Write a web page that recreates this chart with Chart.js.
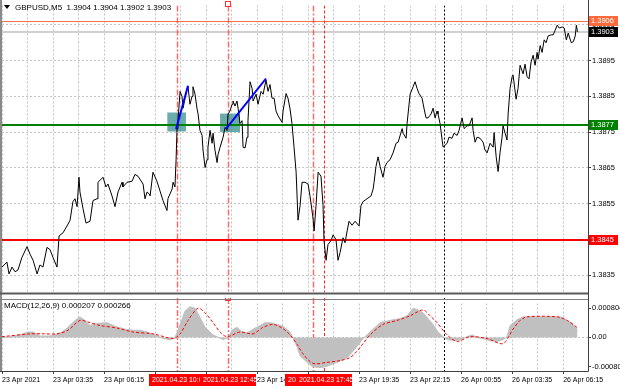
<!DOCTYPE html>
<html>
<head>
<meta charset="utf-8">
<script src="https://cdn.jsdelivr.net/npm/chart.js@4.4.1/dist/chart.umd.min.js"></script>
<style>
  html, body { margin: 0; padding: 0; background: #fff; }
  #wrap { position: relative; width: 620px; height: 388px; overflow: hidden; }
  #price { position: absolute; left: 0; top: 0; }
  #macd { position: absolute; left: 0; top: 298px; }
</style>
</head>
<body>
<div id="wrap">
  <canvas id="price" width="620" height="298"></canvas>
  <canvas id="macd" width="620" height="90"></canvas>
</div>
<script>
// GBPUSD M5, 23-26 Apr 2021. x values are bar numbers (5 min bars, bar 0 = 23 Apr 00:55)
const priceBars = [
  0, 3.1, 4.4, 6.3, 8.2, 10, 12.5, 15.7, 17.6, 19.5, 22, 23.8, 25.7, 28.2, 30.1, 32, 34.5, 35.8, 38.3, 40.8,
  42.7, 44.5, 45.8, 47.1, 48.3, 48.9, 50.8, 52.7, 55.2, 57.1, 59.6, 60.2, 63.4, 65.2, 66.5, 69, 70.9, 72.8, 75.3, 75.9,
  78.4, 81.6, 83.4, 85.3, 88.5, 89.7, 91, 92.2,
  92.9, 94.7, 97.2, 99.1, 101, 103.5, 104.1, 106.7, 107.3, 108.5, 109.2, 109.8, 110.4, 111.7, 112.9, 113.6, 114.8, 116.1, 116.7, 117.9,
  119.2, 119.8, 121.1, 122.3, 123, 124.2, 125.5, 126.1, 127.4, 128.6, 129.2, 130.5, 131.8, 132.4, 133.6, 134.9, 135.5, 136.8, 138.7, 139.9,
  141.2, 141.8, 143, 144.3, 144.9, 146.2, 147.4, 148.1, 149.3, 150.6, 151.2, 152.5, 153.7, 154.3, 155.6, 156.9, 157.5, 159.4, 160.6, 162.5,
  163.8, 165.6, 166.9, 168.1, 169.4, 170.7, 171.9, 173.2, 175.7, 176.3, 178.2, 179.4, 180.7, 181.9, 183.2, 184.5, 185.7, 187,
  188.2, 190.1, 192, 193.2, 195.1, 195.8, 197, 198.3, 200.1, 201.4, 202, 203.3, 204.5, 206.4, 207.7, 209.5, 210.8, 212.1, 213.9, 215.2,
  216.5, 217.7, 219.6, 221.5, 224, 225.2, 226.5, 229, 231.5, 232.8, 233.4, 234.6, 235.9, 237.2, 239, 240.3, 241.5, 243.4, 245.3, 247.2,
  248.5, 251, 251.6, 253.5, 254.1, 256, 257.9, 259.1, 260.4, 261.6, 263.5, 264.8, 266, 267.3, 269.2, 270.4, 271.7, 272.9, 273.5, 274.8,
  276.1, 276.7, 279.2, 280.4,
  282.3, 283.6, 285.5, 286.7, 288.6, 289.9, 291.7, 293, 294.9, 295.5, 296.8, 298, 299.9, 301.8, 303, 304.3, 306.2, 308.1, 308.7, 310,
  311.2, 312.4, 313.7, 314.3, 315.6, 316.8, 317.5, 318.7, 320, 320.6, 322.5, 323.7, 325, 326.9, 328.1, 329.4, 330.6, 331.9, 333.2, 334.4,
  335.7, 336.3, 337.6, 338.8, 340.1, 341.3, 342.6, 344.5, 345.8, 347, 348.3, 349.6, 351.4, 352.7, 354, 355.2, 357.1, 358.4, 359.6, 360.3,
  361
];
const priceCloses = [
  1.38373, 1.38387, 1.38354, 1.38373, 1.38360, 1.38365, 1.38400, 1.38430, 1.38409, 1.38392, 1.38354, 1.38379, 1.38373, 1.38428, 1.38422, 1.38400, 1.38373, 1.38460, 1.38469, 1.38488,
  1.38504, 1.38556, 1.38564, 1.38542, 1.38624, 1.38583, 1.38537, 1.38496, 1.38501, 1.38559, 1.38564, 1.38610, 1.38624, 1.38597, 1.38605, 1.38572, 1.38542, 1.38583, 1.38610, 1.38597,
  1.38610, 1.38613, 1.38632, 1.38627, 1.38605, 1.38564, 1.38583, 1.38578,
  1.38572, 1.38638, 1.38613, 1.38586, 1.38559, 1.38531, 1.38564, 1.38591, 1.38610, 1.38597, 1.38673, 1.38760, 1.38782, 1.38864, 1.38850, 1.38817, 1.38845, 1.38872, 1.38877, 1.38828,
  1.38850, 1.38877, 1.38856, 1.38817, 1.38801, 1.38755, 1.38741, 1.38700, 1.38651, 1.38673, 1.38708, 1.38755, 1.38719, 1.38747, 1.38700, 1.38665, 1.38687, 1.38708, 1.38736, 1.38763,
  1.38755, 1.38801, 1.38809, 1.38828, 1.38837, 1.38823, 1.38837, 1.38817, 1.38774, 1.38782, 1.38708, 1.38706, 1.38736, 1.38782, 1.38891, 1.38872, 1.38837, 1.38856, 1.38828, 1.38864,
  1.38856, 1.38896, 1.38864, 1.38883, 1.38845, 1.38845, 1.38809, 1.38796, 1.38777, 1.38809, 1.38858, 1.38845, 1.38815, 1.38774, 1.38708, 1.38638, 1.38504, 1.38545,
  1.38610, 1.38610, 1.38605, 1.38572, 1.38510, 1.38474, 1.38545, 1.38638, 1.38627, 1.38545, 1.38447, 1.38392, 1.38436, 1.38447, 1.38463, 1.38450, 1.38392, 1.38414, 1.38455, 1.38441,
  1.38474, 1.38501, 1.38490, 1.38501, 1.38488, 1.38545, 1.38556, 1.38564, 1.38572, 1.38591, 1.38610, 1.38654, 1.38681, 1.38654, 1.38624, 1.38654, 1.38665, 1.38673, 1.38692, 1.38719,
  1.38722, 1.38760, 1.38747, 1.38733, 1.38774, 1.38856, 1.38877, 1.38891, 1.38872, 1.38858, 1.38845, 1.38815, 1.38790, 1.38790, 1.38801, 1.38817, 1.38790, 1.38809, 1.38801, 1.38774,
  1.38728, 1.38708, 1.38719, 1.38736,
  1.38733, 1.38747, 1.38741, 1.38755, 1.38790, 1.38760, 1.38768, 1.38768, 1.38790, 1.38755, 1.38722, 1.38736, 1.38733, 1.38722, 1.38700, 1.38692, 1.38719, 1.38708, 1.38749, 1.38681,
  1.38640, 1.38692, 1.38736, 1.38768, 1.38747, 1.38728, 1.38801, 1.38872, 1.38905, 1.38910, 1.38842, 1.38872, 1.38937, 1.38913, 1.38940, 1.38905, 1.38899, 1.38946, 1.38965, 1.38937,
  1.38973, 1.38954, 1.38992, 1.38973, 1.39008, 1.39000, 1.39019, 1.39022, 1.39022, 1.39035, 1.39049, 1.39041, 1.39044, 1.39041, 1.39008, 1.39027, 1.39000, 1.39003, 1.39019, 1.39049,
  1.39030
];

// MACD(12,26,9): main as histogram, signal as dotted line
const macdBars = [
  0, 5, 11.3, 16.3, 19.5, 23.8, 30.1, 35.1, 37.6, 41.4, 45.8, 48.9, 52.1, 55.2, 59.6, 65.9, 70.9, 77.2, 82.2, 86.6,
  91, 96, 101, 105.4, 108.5, 111.7, 114.8, 117.9, 121.1, 124.2, 127.4, 132.4, 138.7, 141.8, 144.3, 147.4, 150.6, 153.7, 157.5, 161.9,
  165, 168.1, 172.5, 176.3, 180.7, 182.5, 185, 187, 191.4, 194.5, 197.6, 200.8, 203.9, 210.2, 216.5, 221.5, 226.5, 230.9, 237.2, 245.3,
  249.7, 254.1, 257.9, 261, 264.1, 267.3, 270.4, 273.5, 276.7, 279.2, 284.2, 287.3, 291.7, 294.9, 298.6, 301.8, 306.2, 310.6, 314.3, 316.8,
  318.7, 323.1, 326.9, 331.3, 337.6, 343.9, 350.2, 354.6, 357.7, 361
];
const macdMain = [
  -0.00001, 0.00002, 0.00007, 0.00015, 0.00015, 0.00004, 0.00004, 0.00010, 0.00015, 0.00028, 0.00047, 0.00057, 0.00047, 0.00033, 0.00039, 0.00041, 0.00031, 0.00023, 0.00020, 0.00020,
  0.00015, 0.00007, -0.00003, -0.00006, -0.00001, 0.00036, 0.00073, 0.00085, 0.00081, 0.00055, 0.00028, 0.00007, -0.00006, -0.00001, 0.00020, 0.00028, 0.00015, 0.00012, 0.00023, 0.00033,
  0.00041, 0.00041, 0.00036, 0.00031, 0.00015, -0.00001, -0.00025, -0.00051, -0.00069, -0.00080, -0.00083, -0.00083, -0.00080, -0.00069, -0.00056, -0.00032, -0.00003, 0.00015, 0.00041, 0.00049,
  0.00052, 0.00060, 0.00081, 0.00076, 0.00068, 0.00052, 0.00036, 0.00015, 0.00002, -0.00006, -0.00009, -0.00006, 0.00002, 0.00007, -0.00001, -0.00003, -0.00009, -0.00011, -0.00006, 0.00002,
  0.00033, 0.00049, 0.00057, 0.00057, 0.00057, 0.00057, 0.00057, 0.00047, 0.00039, 0.000207
];
const signalBars = [
  0, 17.6, 25.7, 34.5, 41.4, 48.9, 55.2, 61.5, 72.2, 82.2, 94.7, 107.3, 111.7, 116.7, 123, 127.4, 132.4, 136.8, 141.2, 149.3,
  157.5, 163.8, 170, 175.7, 180.7, 185.1, 188.9, 195.1, 203.9, 212.1, 218.3, 222.7, 226.5, 230.9, 239, 247.8, 256, 264.1, 268.5, 272.9,
  279.2, 285.5, 293.6, 304.3, 314.3, 320.6, 325, 329.4, 348.3, 354.6, 361
];
const signalVals = [
  0.00002, 0.00010, 0.00010, 0.00010, 0.00020, 0.00047, 0.00041, 0.00033, 0.00026, 0.00015, 0.00010, -0.00003, 0.00010, 0.00047, 0.00081, 0.00068, 0.00041, 0.00015, 0.00002, 0.00015,
  0.00010, 0.00028, 0.00036, 0.00026, 0.00007, -0.00019, -0.00046, -0.00072, -0.00069, -0.00064, -0.00056, -0.00038, -0.00017, 0.00007, 0.00036, 0.00047, 0.00060, 0.00076, 0.00060, 0.00041,
  0.00007, -0.00011, 0.00002, -0.00003, -0.00017, 0.00023, 0.00047, 0.00057, 0.00057, 0.00047, 0.000266
];

// axes
const timeTickBars = [0, 32, 64, 96, 128, 160, 192, 224, 256, 288, 320, 352];
const timeTickLabels = ['23 Apr 2021', '23 Apr 03:35', '23 Apr 06:15', '23 Apr 08:55', '23 Apr 11:35', '23 Apr 14:15',
  '23 Apr 16:55', '23 Apr 19:35', '23 Apr 22:15', '26 Apr 00:55', '26 Apr 03:35', '26 Apr 06:15'];
const priceTicks = [1.3905, 1.3895, 1.3885, 1.3875, 1.3865, 1.3855, 1.3845, 1.3835];
const macdTicks = [0.000804, 0, -0.000804];

// objects drawn on the chart
const resistanceLevel = 1.3877;
const supportLevel = 1.3845;
const askPrice = 1.3906;
const bidPrice = 1.3903;
const trendBars1 = [109.2, 116.7];
const trendPrices1 = [1.38759, 1.38880];
const trendBars2 = [140.5, 165.6];
const trendPrices2 = [1.38759, 1.38900];
const zoneBars = [[103.7, 115.4], [136.8, 149.3]];
const zonePrices = [[1.38752, 1.38805], [1.38750, 1.38802]];
const markerBars = [110, 142, 195, 202];
const markerLabels = ['2021.04.23 10:05', '2021.04.23 12:45', '2021.04.23 17:10', '2021.04.23 17:45'];
const daySeparatorBar = 277;

const XMAX = 367.6;
const FONT = '"Liberation Sans", Arial, sans-serif';
const GRID = '#c4c4c4';

function xy(xs, ys) {
  return xs.map((x, i) => ({x: x, y: ys[i]}));
}

function drawVerticals(chart, top, bottom) {
  const {ctx, scales: {x}} = chart;
  ctx.save();
  markerBars.forEach((b, i) => {
    const px = Math.round(x.getPixelForValue(b)) + 0.5;
    if (i === 3) {
      ctx.strokeStyle = '#ff2020';
      ctx.lineWidth = 1;
      ctx.setLineDash([3, 2]);
    } else {
      ctx.strokeStyle = 'rgba(255,80,80,0.85)';
      ctx.lineWidth = 1.5;
      ctx.setLineDash([6, 2, 2, 2]);
    }
    ctx.beginPath();
    ctx.moveTo(px, top);
    ctx.lineTo(px, bottom);
    ctx.stroke();
  });
  const sx = Math.round(x.getPixelForValue(daySeparatorBar)) + 0.5;
  ctx.strokeStyle = '#000';
  ctx.lineWidth = 1;
  ctx.setLineDash([2, 2]);
  ctx.beginPath();
  ctx.moveTo(sx, top);
  ctx.lineTo(sx, bottom);
  ctx.stroke();
  ctx.restore();
}

function axisBox(ctx, yPix, text, bg) {
  ctx.fillStyle = bg;
  ctx.fillRect(589, Math.round(yPix) - 5, 29, 10);
  ctx.fillStyle = '#fff';
  ctx.font = '7.5px ' + FONT;
  ctx.textBaseline = 'middle';
  ctx.textAlign = 'left';
  ctx.fillText(text, 591, Math.round(yPix));
}

const pricePanel = {
  id: 'pricePanel',
  beforeDatasetsDraw(chart) {
    const {ctx, chartArea: a, scales: {x, y}} = chart;
    ctx.save();
    ctx.beginPath();
    ctx.rect(a.left, a.top, a.right - a.left, a.bottom - a.top);
    ctx.clip();
    // levels
    const hline = (p, color, w) => {
      const py = Math.round(y.getPixelForValue(p)) + (w % 2 ? 0.5 : 0);
      ctx.strokeStyle = color;
      ctx.lineWidth = w;
      ctx.beginPath();
      ctx.moveTo(a.left, py);
      ctx.lineTo(a.right, py);
      ctx.stroke();
    };
    hline(askPrice, '#ff7043', 1);
    hline(bidPrice, '#d0d0d0', 2);
    drawVerticals(chart, a.top, a.bottom);
    // entry zones
    ctx.fillStyle = 'rgba(48,138,138,0.72)';
    zoneBars.forEach((b, i) => {
      const x1 = x.getPixelForValue(b[0]);
      const x2 = x.getPixelForValue(b[1]);
      const y1 = y.getPixelForValue(zonePrices[i][1]);
      const y2 = y.getPixelForValue(zonePrices[i][0]);
      ctx.fillRect(x1, y1, x2 - x1, y2 - y1);
    });
    hline(resistanceLevel, '#008000', 2);
    hline(supportLevel, '#ff0000', 2);
    ctx.restore();
  },
  afterDraw(chart) {
    const {ctx, chartArea: a, scales: {x, y}} = chart;
    ctx.save();
    // frame
    ctx.fillStyle = '#8a8a8a';
    ctx.fillRect(0, 0, 2, chart.height);
    ctx.fillStyle = '#5a5a5a';
    ctx.fillRect(0, a.bottom, a.right + 1, 2);
    ctx.strokeStyle = '#404040';
    ctx.lineWidth = 1;
    ctx.beginPath();
    ctx.moveTo(a.right + 0.5, 0);
    ctx.lineTo(a.right + 0.5, chart.height);
    ctx.stroke();
    // marker flag on top of the 12:45 line
    const mx = Math.round(x.getPixelForValue(markerBars[1]));
    ctx.strokeStyle = '#ff3030';
    ctx.strokeRect(mx - 2.5, 1.5, 5, 5);
    // symbol line
    ctx.fillStyle = '#000';
    ctx.beginPath();
    ctx.moveTo(4, 5);
    ctx.lineTo(10, 5);
    ctx.lineTo(7, 9);
    ctx.closePath();
    ctx.fill();
    ctx.font = '8px ' + FONT;
    ctx.textBaseline = 'middle';
    ctx.fillText('GBPUSD,M5  1.3904 1.3904 1.3902 1.3903', 15, 7.5);
    // price boxes on the axis
    axisBox(ctx, y.getPixelForValue(askPrice), '1.3906', '#ff6a3d');
    axisBox(ctx, y.getPixelForValue(bidPrice), '1.3903', '#000');
    axisBox(ctx, y.getPixelForValue(resistanceLevel), '1.3877', '#008000');
    axisBox(ctx, y.getPixelForValue(supportLevel), '1.3845', '#ff0000');
    ctx.restore();
  }
};

const macdPanel = {
  id: 'macdPanel',
  beforeDatasetsDraw(chart) {
    const {chartArea: a} = chart;
    drawVerticals(chart, 0, a.bottom);
  },
  afterDraw(chart) {
    const {ctx, chartArea: a, scales: {x}} = chart;
    ctx.save();
    ctx.fillStyle = '#8a8a8a';
    ctx.fillRect(0, 0, 2, a.bottom);
    ctx.strokeStyle = '#808080';
    ctx.lineWidth = 1;
    ctx.beginPath();
    ctx.moveTo(0, 1.5);
    ctx.lineTo(a.right, 1.5);
    ctx.stroke();
    ctx.strokeStyle = '#404040';
    ctx.beginPath();
    ctx.moveTo(a.right + 0.5, 0);
    ctx.lineTo(a.right + 0.5, a.bottom + 0.5);
    ctx.lineTo(0, a.bottom + 0.5);
    ctx.stroke();
    const mx = Math.round(x.getPixelForValue(markerBars[1]));
    ctx.strokeStyle = '#ff3030';
    ctx.strokeRect(mx - 2.5, -2.5, 5, 5);
    ctx.fillStyle = '#000';
    ctx.font = '8px ' + FONT;
    ctx.textBaseline = 'middle';
    ctx.textAlign = 'left';
    ctx.fillText('MACD(12,26,9) 0.000207 0.000266', 4, 8);
    // time labels of the marker lines
    markerBars.forEach((b, i) => {
      const px = Math.round(x.getPixelForValue(b));
      ctx.fillStyle = '#ff0000';
      ctx.fillRect(px - 28, a.bottom + 3, 56, 12);
      ctx.fillStyle = '#fff';
      ctx.font = '7px ' + FONT;
      ctx.fillText(markerLabels[i], px - 25, a.bottom + 9.5);
    });
    ctx.restore();
  }
};

const gridBars = [];
for (let b = 0; b <= XMAX; b += 16) gridBars.push(b);

new Chart(document.getElementById('price'), {
  type: 'line',
  data: {
    datasets: [
      {data: xy(trendBars1, trendPrices1), borderColor: '#0000ff', borderWidth: 2, pointRadius: 0, order: 0},
      {data: xy(trendBars2, trendPrices2), borderColor: '#0000ff', borderWidth: 2, pointRadius: 0, order: 0},
      {data: xy(priceBars, priceCloses), borderColor: '#000', borderWidth: 1, pointRadius: 0, tension: 0, order: 1}
    ]
  },
  options: {
    responsive: false,
    animation: false,
    devicePixelRatio: 1,
    events: [],
    layout: {padding: {left: 2, top: 2, right: 0, bottom: 0}},
    plugins: {legend: {display: false}, tooltip: {enabled: false}},
    scales: {
      x: {
        type: 'linear', min: 0, max: XMAX,
        afterBuildTicks: s => { s.ticks = gridBars.map(v => ({value: v})); },
        afterFit: s => { s.height = 2; },
        ticks: {display: false},
        grid: {color: GRID, drawTicks: false},
        border: {display: false, dash: [2, 2]}
      },
      y: {
        type: 'linear', position: 'right', min: 1.38302, max: 1.39104,
        afterBuildTicks: s => { s.ticks = priceTicks.map(v => ({value: v})); },
        afterFit: s => { s.width = 32; },
        ticks: {color: '#000', font: {family: FONT, size: 7.5}, padding: 1, callback: v => v.toFixed(4)},
        grid: {color: GRID, drawTicks: true, tickLength: 3, tickColor: '#404040'},
        border: {display: false, dash: [2, 2]}
      }
    }
  },
  plugins: [pricePanel]
});

new Chart(document.getElementById('macd'), {
  type: 'line',
  data: {
    datasets: [
      {data: xy(signalBars, signalVals), borderColor: '#ff0000', borderWidth: 1, borderDash: [3, 2], pointRadius: 0, tension: 0.3, order: 0},
      {data: xy(macdBars, macdMain), borderColor: '#c0c0c0', backgroundColor: '#c0c0c0', borderWidth: 1, fill: 'origin', pointRadius: 0, order: 1}
    ]
  },
  options: {
    responsive: false,
    animation: false,
    devicePixelRatio: 1,
    events: [],
    layout: {padding: {left: 2, top: 2, right: 0, bottom: 0}},
    plugins: {legend: {display: false}, tooltip: {enabled: false}},
    scales: {
      x: {
        type: 'linear', min: 0, max: XMAX,
        afterBuildTicks: s => { s.ticks = gridBars.map(v => ({value: v})); },
        afterFit: s => { s.height = 17; },
        ticks: {
          color: '#000', font: {family: FONT, size: 7}, align: 'start', padding: 2,
          autoSkip: false, maxRotation: 0,
          callback: v => { const i = timeTickBars.indexOf(v); return i < 0 ? '' : timeTickLabels[i]; }
        },
        grid: {
          color: GRID, drawTicks: true, tickLength: 3,
          tickColor: c => timeTickBars.includes(c.tick && c.tick.value) ? '#404040' : 'rgba(0,0,0,0)'
        },
        border: {display: false, dash: [2, 2]}
      },
      y: {
        type: 'linear', position: 'right', min: -0.00093, max: 0.00094,
        afterBuildTicks: s => { s.ticks = macdTicks.map(v => ({value: v})); },
        afterFit: s => { s.width = 32; },
        ticks: {color: '#000', font: {family: FONT, size: 7.5}, padding: 1,
          callback: v => v === 0 ? '0.00' : v.toFixed(6)},
        grid: {
          color: c => (c.tick && c.tick.value === 0) ? GRID : 'rgba(0,0,0,0)',
          drawTicks: true, tickLength: 3, tickColor: '#404040'
        },
        border: {display: false, dash: [2, 2]}
      }
    }
  },
  plugins: [macdPanel]
});
</script>
</body>
</html>
